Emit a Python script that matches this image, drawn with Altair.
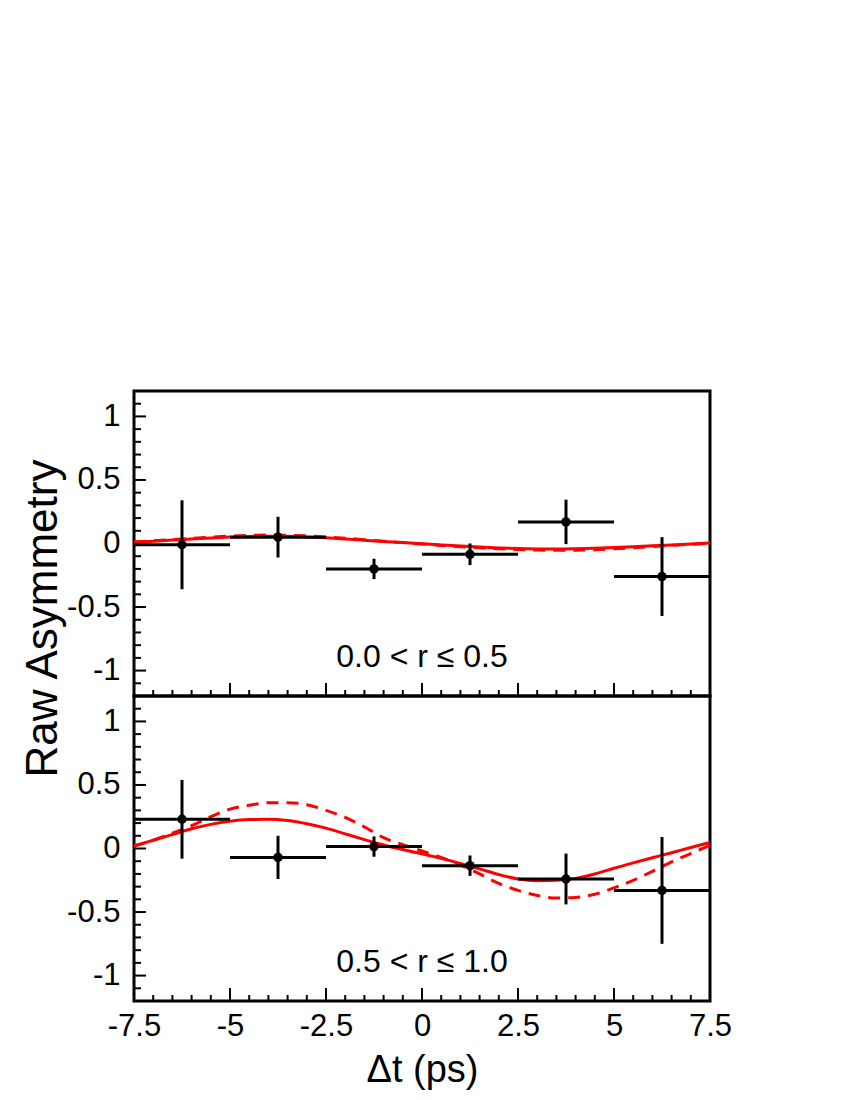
import altair as alt
import pandas as pd

# ---------------- data ----------------
bin_center = [-6.25, -3.75, -1.25, 1.25, 3.75, 6.25]
bin_lo = [-7.5, -5.0, -2.5, 0.0, 2.5, 5.0]
bin_hi = [-5.0, -2.5, 0.0, 2.5, 5.0, 7.5]

top_asym = [-0.01, 0.05, -0.20, -0.085, 0.17, -0.26]
top_err = [0.35, 0.16, 0.08, 0.085, 0.175, 0.31]
bot_asym = [0.23, -0.07, 0.015, -0.135, -0.24, -0.33]
bot_err = [0.31, 0.17, 0.08, 0.08, 0.20, 0.42]

curve_t = [-7.5, -7.0, -6.5, -6.0, -5.5, -5.0, -4.5, -4.0, -3.5, -3.0, -2.5,
           -2.0, -1.5, -1.0, -0.5, 0.0, 0.5, 1.0, 1.5, 2.0, 2.5, 3.0, 3.5,
           4.0, 4.5, 5.0, 5.5, 6.0, 6.5, 7.0, 7.5]
top_solid = [0.010, 0.018, 0.027, 0.036, 0.044, 0.051, 0.056, 0.058, 0.057,
             0.052, 0.045, 0.036, 0.026, 0.016, 0.007, -0.002, -0.011, -0.020,
             -0.028, -0.035, -0.040, -0.043, -0.044, -0.042, -0.038, -0.032,
             -0.025, -0.018, -0.011, -0.004, 0.003]
top_dashed = [0.012, 0.021, 0.031, 0.041, 0.050, 0.058, 0.063, 0.066, 0.065,
              0.060, 0.052, 0.042, 0.030, 0.018, 0.007, -0.004, -0.015, -0.025,
              -0.034, -0.042, -0.048, -0.052, -0.054, -0.053, -0.049, -0.042,
              -0.033, -0.024, -0.015, -0.006, 0.002]
bot_solid = [0.020, 0.065, 0.110, 0.155, 0.190, 0.215, 0.228, 0.230, 0.220,
             0.195, 0.160, 0.115, 0.070, 0.028, -0.008, -0.042, -0.078, -0.118,
             -0.160, -0.205, -0.240, -0.253, -0.250, -0.235, -0.200, -0.155,
             -0.113, -0.073, -0.033, 0.008, 0.048]
bot_dashed = [0.020, 0.065, 0.120, 0.180, 0.250, 0.310, 0.340, 0.360, 0.360,
              0.345, 0.300, 0.245, 0.170, 0.085, 0.030, -0.020, -0.070, -0.130,
              -0.200, -0.275, -0.330, -0.370, -0.390, -0.385, -0.360, -0.310,
              -0.250, -0.180, -0.105, -0.040, 0.025]

panel_labels = ["0.0 < r \u2264 0.5", "0.5 < r \u2264 1.0"]

x_major = [-7.5, -5.0, -2.5, 0.0, 2.5, 5.0, 7.5]
x_minor = [-7.0, -6.5, -6.0, -5.5, -4.5, -4.0, -3.5, -3.0, -2.0, -1.5, -1.0,
           -0.5, 0.5, 1.0, 1.5, 2.0, 3.0, 3.5, 4.0, 4.5, 5.5, 6.0, 6.5, 7.0]
y_major = [-1.0, -0.5, 0.0, 0.5, 1.0]
y_minor = [-1.2, -1.1, -0.9, -0.8, -0.7, -0.6, -0.4, -0.3, -0.2, -0.1,
           0.1, 0.2, 0.3, 0.4, 0.6, 0.7, 0.8, 0.9, 1.1, 1.2]

# ---------------- styling ----------------
FONT = "Liberation Sans"
W, H = 576, 305
RED = "#ff0000"

xscale = alt.Scale(domain=[-7.5, 7.5], nice=False, zero=False)
yscale = alt.Scale(domain=[-1.2, 1.2], nice=False, zero=False)


def y_axis(with_title):
    kw = dict(values=y_major, labelExpr="datum.value + ''", ticks=False,
              domain=False, grid=False, labelFontSize=31, labelFont=FONT,
              labelColor="black", labelPadding=14, labelFlush=False,
              labelOverlap=False)
    if with_title:
        kw.update(title="Raw Asymmetry", titleFont=FONT, titleFontSize=44,
                  titleFontWeight="normal", titleColor="black", titleAngle=270,
                  titleX=-78, titleY=227, titleAlign="center",
                  titleBaseline="alphabetic")
    else:
        kw.update(title=None)
    return alt.Axis(**kw)


def x_axis(with_labels):
    if not with_labels:
        return None
    return alt.Axis(values=x_major, labelExpr="datum.value + ''", ticks=False,
                    domain=False, grid=False, labelFontSize=31, labelFont=FONT,
                    labelColor="black", labelPadding=10, labelFlush=False,
                    labelOverlap=False, title="\u0394t (ps)",
                    titleFont=FONT, titleFontSize=38, titleFontWeight="normal",
                    titleColor="black", titleY=80, titleBaseline="alphabetic")


def panel(asym, err, solid, dashed, label, with_xlabels, with_ytitle):
    pts = pd.DataFrame({"t": bin_center, "lo": bin_lo, "hi": bin_hi,
                        "a": asym, "e": err})
    pts["alo"] = pts["a"] - pts["e"]
    pts["ahi"] = pts["a"] + pts["e"]
    cur = pd.DataFrame({"t": curve_t, "solid": solid, "dashed": dashed})

    X = lambda f: alt.X(f, type="quantitative", scale=xscale,
                        axis=x_axis(with_xlabels))
    Y = lambda f: alt.Y(f, type="quantitative", scale=yscale,
                        axis=y_axis(with_ytitle))

    base_pts = alt.Chart(pts)
    hbar = base_pts.mark_rule(color="black", strokeWidth=3).encode(
        x=X("lo"), x2="hi", y=Y("a"))
    vbar = base_pts.mark_rule(color="black", strokeWidth=3).encode(
        x=X("t"), y=Y("alo"), y2="ahi")
    dots = base_pts.mark_circle(color="black", opacity=1, size=90).encode(
        x=X("t"), y=Y("a"))

    base_cur = alt.Chart(cur)
    line_solid = base_cur.mark_line(color=RED, strokeWidth=3,
                                    interpolate="monotone").encode(
        x=X("t"), y=Y("solid"))
    line_dashed = base_cur.mark_line(color=RED, strokeWidth=3,
                                     strokeDash=[12, 8],
                                     interpolate="monotone").encode(
        x=X("t"), y=Y("dashed"))

    txt = alt.Chart(pd.DataFrame({"lab": [label]})).mark_text(
        font=FONT, fontSize=32, color="black", baseline="middle",
        align="center").encode(x=alt.datum(0), y=alt.datum(-0.89),
                               text="lab:N")

    # inward ticks (x ticks on the bottom edge, y ticks on the left edge)
    xmaj = alt.Chart(pd.DataFrame({"v": x_major})).mark_rule(
        color="black", strokeWidth=2).encode(
        x=X("v"), y=alt.value(H), y2=alt.value(H - 13))
    xmin = alt.Chart(pd.DataFrame({"v": x_minor})).mark_rule(
        color="black", strokeWidth=2).encode(
        x=X("v"), y=alt.value(H), y2=alt.value(H - 6))
    ymaj = alt.Chart(pd.DataFrame({"v": y_major})).mark_rule(
        color="black", strokeWidth=2).encode(
        y=Y("v"), x=alt.value(0), x2=alt.value(12))
    ymin = alt.Chart(pd.DataFrame({"v": y_minor})).mark_rule(
        color="black", strokeWidth=2).encode(
        y=Y("v"), x=alt.value(0), x2=alt.value(7))

    return alt.layer(xmaj, xmin, ymaj, ymin, line_dashed, line_solid,
                     hbar, vbar, dots, txt).properties(width=W, height=H)


top = panel(top_asym, top_err, top_solid, top_dashed, panel_labels[0],
            with_xlabels=False, with_ytitle=True)
bottom = panel(bot_asym, bot_err, bot_solid, bot_dashed, panel_labels[1],
               with_xlabels=True, with_ytitle=False)

chart = alt.vconcat(top, bottom, spacing=0, bounds="flush").properties(
    padding={"left": 11, "top": 380, "right": 5, "bottom": 2},
    background="white",
).configure_view(stroke="black", strokeWidth=3).configure_concat(spacing=0)

chart.save("out.html", embed_options={"renderer": "svg", "actions": False})
